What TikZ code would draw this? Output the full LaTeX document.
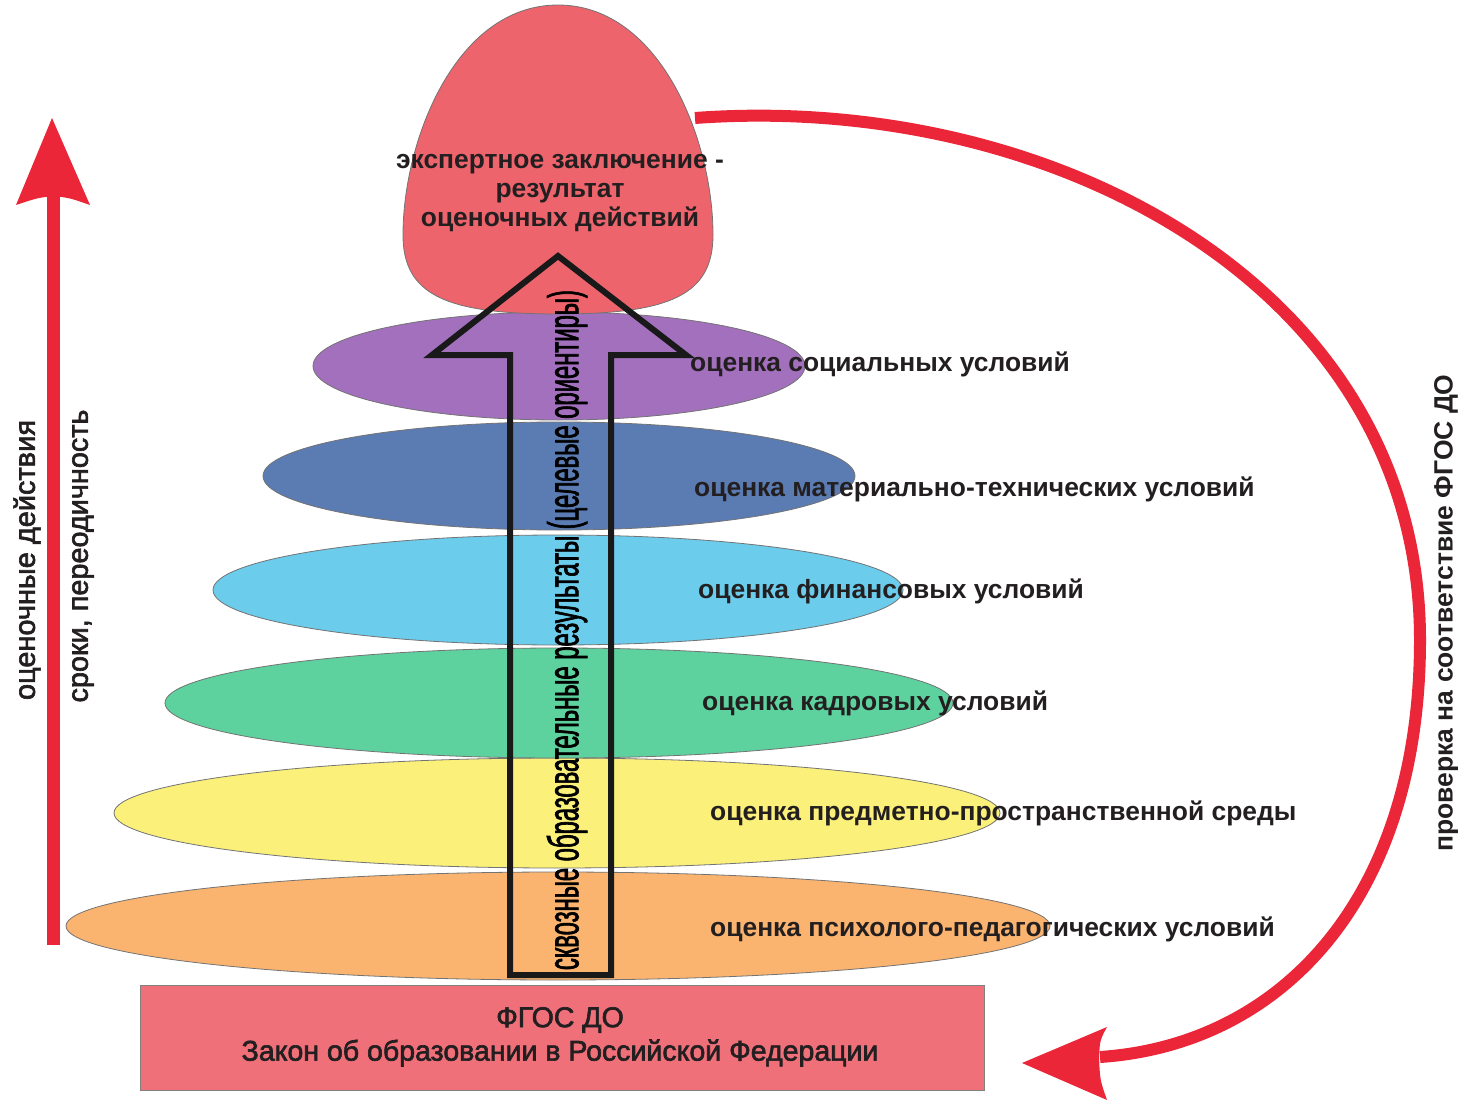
\documentclass[tikz,border=0pt]{standalone}
\usepackage{fontspec}
\setmainfont{Liberation Sans}
\newfontfamily\condf[FakeStretch=0.55,FakeBold=1.5]{Liberation Sans}
\newfontfamily\medf[FakeBold=2.2]{Liberation Sans}
\usepackage{graphicx}
\definecolor{cpurple}{RGB}{163,112,190}
\definecolor{cslate}{RGB}{91,124,178}
\definecolor{csky}{RGB}{108,204,236}
\definecolor{cgreen}{RGB}{94,210,158}
\definecolor{cyellow}{RGB}{250,240,122}
\definecolor{corange}{RGB}{250,180,112}
\definecolor{cegg}{RGB}{238,100,108}
\definecolor{cbox}{RGB}{240,112,122}
\definecolor{cred}{RGB}{234,38,56}
\definecolor{ctext}{RGB}{35,31,32}
\tikzset{
  ell/.style={draw=black!55, line width=0.8pt},
  lab/.style={anchor=base west, inner sep=0pt, text=ctext, font=\bfseries\fontsize{26.4}{30}\selectfont},
  redline/.style={draw=cred, line width=12pt},
  redhead/.style={fill=cred, draw=none},
}
\begin{document}
\begin{tikzpicture}[x=1pt,y=-1pt]
\useasboundingbox (0,0) rectangle (1467,1102);
% ellipses
\path[ell, fill=corange] (558,926) ellipse [x radius=492pt, y radius=54pt];
\path[ell, fill=cyellow] (557,813) ellipse [x radius=443pt, y radius=55pt];
\path[ell, fill=cgreen] (559,703) ellipse [x radius=394pt, y radius=55pt];
\path[ell, fill=csky] (558,590) ellipse [x radius=345pt, y radius=55pt];
\path[ell, fill=cslate] (559,476) ellipse [x radius=296pt, y radius=54pt];
\path[ell, fill=cpurple] (559,366) ellipse [x radius=246pt, y radius=54pt];
% egg
\path[ell, fill=cegg] (558,5) .. controls (660,5) and (713,140) .. (713,235)
  .. controls (713,295) and (670,314) .. (558,314)
  .. controls (446,314) and (403,295) .. (403,235)
  .. controls (403,140) and (456,5) .. (558,5) -- cycle;
\node[align=center, text=ctext, font=\bfseries\fontsize{26.4}{29}\selectfont] (egg) at (560,193)
  {экспертное заключение -\\результат\\оценочных действий};
% base box
\node[draw=black!50, line width=0.8pt, fill=cbox, minimum width=844pt, minimum height=105pt, inner sep=0pt] (box) at (562,1037.5) {};
\node[text=ctext, font=\medf\fontsize{28.5}{30}\selectfont, inner sep=0pt] (fgos) at (560,1020) {ФГОС ДО};
\node[text=ctext, font=\medf\fontsize{28.5}{30}\selectfont, inner sep=0pt] (law) at (560,1053) {Закон об образовании в Российской Федерации};
% big outline arrow
\draw[line width=6pt, line join=miter, black!90] (510,975) -- (510,355) -- (432,355) -- (558,256) -- (686,355) -- (611,355) -- (611,975) -- cycle;
\node[rotate=90, text=black, inner sep=0pt] (through) at (567,630)
  {\resizebox{680pt}{!}{\condf\fontsize{42}{44}\selectfont сквозные образовательные результаты (целевые ориентиры)}};
% labels
\node[lab] (l1) at (690,371) {оценка социальных условий};
\node[lab] (l2) at (694,496) {оценка материально-технических условий};
\node[lab] (l3) at (698,598) {оценка финансовых условий};
\node[lab] (l4) at (702,710) {оценка кадровых условий};
\node[lab] (l5) at (710,820) {оценка предметно-пространственной среды};
\node[lab] (l6) at (710,936) {оценка психолого-педагогических условий};
% left arrow
\coordinate (lb) at (53.5,945);
\coordinate (lt) at (53.5,196);
\draw[draw=cred, line width=13pt] (lb) -- (lt);
\path[redhead] (52,118) -- (90,205) .. controls (70,198) .. (53.5,196) .. controls (37,198) .. (16,205) -- cycle;
\node[rotate=90, text=ctext, inner sep=0pt] (ocd) at (27,560)
  {\resizebox{280pt}{!}{\medf\fontsize{29}{30}\selectfont оценочные действия}};
\node[rotate=90, text=ctext, inner sep=0pt] (srok) at (83,556)
  {\resizebox{293pt}{!}{\medf\fontsize{29}{30}\selectfont сроки, переодичность}};
% right curved arrow
\coordinate (rs) at (695,118);
\coordinate (re) at (1100,1057);
\draw[redline] (rs) .. controls (1050,92) and (1420,285) .. (1420,640)
  .. controls (1420,900) and (1280,1045) .. (re);
\path[redhead] (1022,1063) -- (1107,1027) .. controls (1100,1040) .. (1099,1057) .. controls (1100,1080) .. (1107,1100) -- cycle;
\node[rotate=90, text=ctext, inner sep=0pt] (check) at (1446,613)
  {\resizebox{477pt}{!}{\bfseries\fontsize{25}{30}\selectfont проверка на соответствие ФГОС ДО}};
\end{tikzpicture}
\end{document}
